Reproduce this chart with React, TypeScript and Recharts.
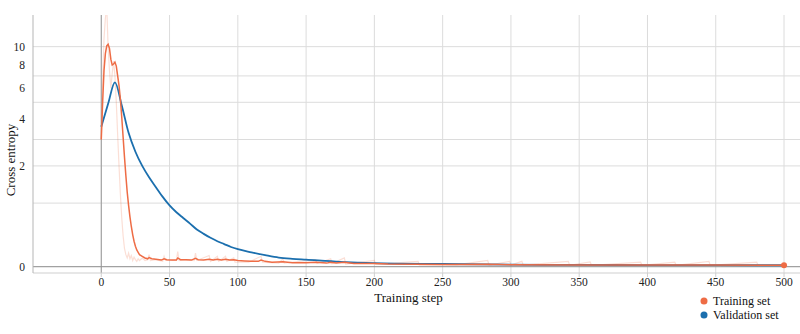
import React from 'react';
import { LineChart, Line, XAxis, YAxis, CartesianGrid, ReferenceLine, Legend } from 'recharts';

// Smoothed training loss
const trainSteps = [0,1,2,3,4,5,6,7,8,9,10,11,12,13,14,15,16,17,18,19,20,21,22,23,24,25,26,27,28,30,32,34,35,37,40,44,46,48,52,55,56,58,62,66,69,71,75,79,82,85,88,91,94,97,100,105,110,115,117,120,125,133,140,150,157,165,168,172,178,185,200,210,230,250,283,300,350,400,450,500];
const trainLoss = [3.0,5.0,7.5,9.2,10.1,10.3,9.8,8.6,8.0,8.1,8.3,7.9,7.0,6.2,5.2,4.1,3.1,2.3,1.7,1.25,0.95,0.72,0.55,0.42,0.32,0.25,0.2,0.17,0.14,0.12,0.1,0.09,0.105,0.09,0.085,0.075,0.09,0.08,0.075,0.075,0.1,0.08,0.08,0.075,0.095,0.08,0.075,0.085,0.075,0.085,0.075,0.085,0.075,0.08,0.07,0.065,0.06,0.06,0.075,0.06,0.05,0.055,0.045,0.045,0.05,0.04,0.05,0.04,0.05,0.035,0.035,0.03,0.028,0.025,0.028,0.022,0.02,0.018,0.018,0.017];

// Raw (unsmoothed) training loss
const rawSteps = [0,1,2,3,4,5,6,7,8,9,10,11,12,13,14,15,16,17,18,19,20,21,22,23,24,25,26,27,28,30,32,34,35,36,40,45,46,47,55,56,57,62,68,69,70,79,80,85,86,91,92,97,98,108,117,118,130,133,134,157,158,168,169,178,179,200,201,232,233,260,283,284,299,300,308,309,342,343,358,359,395,396,420,421,445,446,480,481,500];
const rawLoss = [3.0,6.5,11,14,16,10,7.5,6.0,7.2,8.4,7.0,5.0,3.2,2.0,1.2,0.7,0.4,0.22,0.14,0.1,0.16,0.09,0.13,0.07,0.11,0.08,0.06,0.09,0.07,0.1,0.07,0.08,0.14,0.07,0.08,0.06,0.12,0.07,0.07,0.18,0.07,0.08,0.07,0.16,0.07,0.13,0.06,0.12,0.06,0.12,0.06,0.1,0.05,0.05,0.12,0.05,0.04,0.09,0.04,0.08,0.035,0.09,0.035,0.1,0.03,0.07,0.025,0.06,0.02,0.02,0.07,0.018,0.06,0.018,0.06,0.018,0.06,0.016,0.055,0.016,0.05,0.015,0.05,0.015,0.06,0.015,0.05,0.015,0.015];

// Validation loss
const valSteps = [0,5,10,15,20,25,30,35,40,45,50,55,60,65,70,75,80,85,90,95,100,110,120,130,140,150,175,200,250,300,350,400,450,500];
const valLoss = [3.6,4.9,6.45,4.8,3.3,2.5,2.0,1.65,1.38,1.14,0.95,0.81,0.7,0.6,0.5,0.43,0.37,0.32,0.28,0.24,0.21,0.17,0.135,0.105,0.09,0.08,0.055,0.04,0.03,0.022,0.02,0.018,0.017,0.016];

const xTicks = [0,50,100,150,200,250,300,350,400,450,500];
const yTickValues = [0,2,4,6,8,10];
const yGridValues = [1,2,3,4,5,6,7,8,9,10];
const seriesNames = ['Training set','Validation set'];
const seriesColors = ['#ee6c45','#1b6fae'];
const xTitle = 'Training step';
const yTitle = 'Cross entropy';

const tf = (v: number) => Math.log1p(v);
const zip = (steps: number[], vals: number[]) => steps.map((s, i) => ({ step: s, loss: vals[i] }));
const trainData = zip(trainSteps, trainLoss);
const rawData = zip(rawSteps, rawLoss);
const valData = zip(valSteps, valLoss);

const FONT = 'Liberation Serif, DejaVu Serif, serif';

const LegendContent = () => (
  <div style={{ fontFamily: FONT, fontSize: 12, color: '#111', lineHeight: '14px' }}>
    {seriesNames.map((n, i) => (
      <div key={n} style={{ display: 'flex', alignItems: 'center', whiteSpace: 'nowrap' }}>
        <svg width={8} height={8} style={{ marginRight: 5 }}>
          <circle cx={4} cy={4} r={3.5} fill={seriesColors[i]} />
        </svg>
        <span>{n}</span>
      </div>
    ))}
  </div>
);

export default function App() {
  return (
    <div style={{ position: 'fixed', left: 0, top: 0, background: '#fff', fontFamily: FONT }}>
      <LineChart width={800} height={334} margin={{ top: 15, right: 0, bottom: 31, left: 0 }} style={{ fontFamily: FONT }}>
        <CartesianGrid
          stroke="#dcdcdc"
          horizontalValues={yGridValues.map(tf)}
          verticalValues={xTicks}
        />
        <XAxis
          type="number"
          dataKey="step"
          domain={[-50, 511.7]}
          allowDataOverflow
          ticks={xTicks}
          height={30}
          tickSize={4}
          tickMargin={1}
          tickLine={{ stroke: '#cfcfcf' }}
          axisLine={{ stroke: '#cfcfcf' }}
          tick={{ fontSize: 11.5, fill: '#222', style: { fontFamily: FONT } }}
          label={(props: any) => {
            const vb = props.viewBox || {};
            return (
              <text x={vb.x + vb.width / 2 - 8} y={vb.y + 29} textAnchor="middle" style={{ fontFamily: FONT }} fontSize={13} fill="#111">
                {xTitle}
              </text>
            );
          }}
        />
        <YAxis
          type="number"
          width={33}
          domain={[-0.0685, 2.743]}
          allowDataOverflow
          ticks={yTickValues.map(tf)}
          tickFormatter={(t: number) => String(Math.round(Math.expm1(t)))}
          tickLine={false}
          tickSize={0}
          tickMargin={8}
          axisLine={{ stroke: '#b5b5b5' }}
          tick={{ fontSize: 11.5, fill: '#222', style: { fontFamily: FONT } }}
          label={(props: any) => {
            const vb = props.viewBox || {};
            const cx = 10;
            const cy = vb.y + vb.height / 2 + 16;
            return (
              <text x={cx} y={cy} transform={`rotate(-90, ${cx}, ${cy})`} textAnchor="middle" dominantBaseline="central" style={{ fontFamily: FONT }} fontSize={13} fill="#111">
                {yTitle}
              </text>
            );
          }}
        />
        <ReferenceLine y={0} stroke="#8a8a8a" strokeWidth={1} />
        <ReferenceLine x={0} stroke="#999" strokeWidth={1} />
        <Line
          data={rawData}
          dataKey={(d: any) => tf(d.loss)}
          type="linear"
          stroke={seriesColors[0]}
          strokeOpacity={0.22}
          strokeWidth={1.2}
          dot={false}
          legendType="none"
          isAnimationActive={false}
        />
        <Line
          data={valData}
          dataKey={(d: any) => tf(d.loss)}
          name={seriesNames[1]}
          type="monotone"
          stroke={seriesColors[1]}
          strokeWidth={1.8}
          dot={false}
          isAnimationActive={false}
        />
        <Line
          data={trainData}
          dataKey={(d: any) => tf(d.loss)}
          name={seriesNames[0]}
          type="linear"
          stroke={seriesColors[0]}
          strokeWidth={1.5}
          dot={(p: any) =>
            p.index === trainData.length - 1 ? (
              <circle key={`d${p.index}`} cx={p.cx} cy={p.cy} r={3} fill={seriesColors[0]} />
            ) : (
              <g key={`d${p.index}`} />
            )
          }
          isAnimationActive={false}
        />
        <Legend
          layout="vertical"
          align="center"
          verticalAlign="middle"
          content={<LegendContent />}
          wrapperStyle={{ left: 700, top: 294, width: 100, height: 30 }}
        />
      </LineChart>
    </div>
  );
}
